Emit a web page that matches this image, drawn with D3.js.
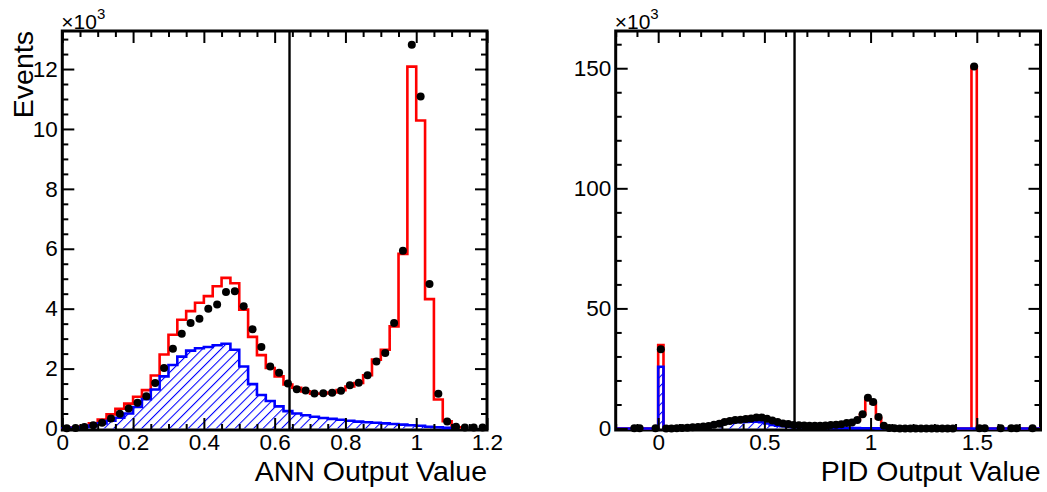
<!DOCTYPE html>
<html>
<head>
<meta charset="utf-8">
<script src="https://cdn.jsdelivr.net/npm/d3@7"></script>
<style>
  html, body { margin: 0; padding: 0; background: #fff; }
  svg { display: block; font-family: "Liberation Sans", Arial, Helvetica, sans-serif; }
</style>
</head>
<body>
<svg id="chart" width="1047" height="492"></svg>
<script>
// Bin width shared by both histograms
const binW = 0.025;

// ---- ANN output: 48 bins on [0, 1.2], entries in thousands ----
const annLow = 0;
const annData = [0.01, 0.02, 0.05, 0.11, 0.19, 0.33, 0.49, 0.67, 0.86, 1.08, 1.52, 2.02,
                 2.66, 3.16, 3.52, 3.66, 4.00, 4.14, 4.56, 4.58, 4.08, 3.31, 2.72, 2.07,
                 1.86, 1.50, 1.31, 1.27, 1.17, 1.18, 1.19, 1.26, 1.44, 1.53, 1.78, 2.24,
                 2.52, 3.52, 5.93, 12.81, 11.08, 4.82, 1.16, 0.23, 0.06, 0.03, 0.03, 0.03];
const annTotal = [0.01, 0.03, 0.07, 0.17, 0.30, 0.47, 0.66, 0.83, 1.06, 1.28, 1.77, 2.47,
                  3.13, 3.63, 3.92, 4.20, 4.42, 4.75, 5.03, 4.85, 3.97, 3.06, 2.45, 2.02,
                  1.74, 1.47, 1.36, 1.24, 1.16, 1.17, 1.20, 1.28, 1.40, 1.52, 1.78, 2.30,
                  2.63, 3.41, 5.83, 12.08, 10.28, 4.32, 0.97, 0.24, 0.04];
const annBkg = [0.01, 0.02, 0.05, 0.10, 0.17, 0.26, 0.36, 0.50, 0.72, 0.98, 1.30, 1.74,
                2.12, 2.40, 2.60, 2.68, 2.72, 2.78, 2.83, 2.63, 2.07, 1.48, 1.12, 0.92,
                0.74, 0.58, 0.50, 0.44, 0.39, 0.35, 0.32, 0.29, 0.26, 0.23, 0.21, 0.19,
                0.17, 0.15, 0.13, 0.11, 0.09, 0.06, 0.04, 0.02];
const annXMajor = [0, 0.2, 0.4, 0.6, 0.8, 1, 1.2];
const annXMinor = [0.05, 0.1, 0.15, 0.25, 0.3, 0.35, 0.45, 0.5, 0.55, 0.65, 0.7, 0.75,
                   0.85, 0.9, 0.95, 1.05, 1.1, 1.15];
const annYMajor = [0, 2, 4, 6, 8, 10, 12];
const annYMinor = [0.5, 1, 1.5, 2.5, 3, 3.5, 4.5, 5, 5.5, 6.5, 7, 7.5, 8.5, 9, 9.5,
                   10.5, 11, 11.5, 12.5, 13];
const annYMax = 13.27;

// ---- PID output: 80 bins on [-0.2, 1.8], entries in thousands ----
const pidLow = -0.2;
const pidData = [0, 0, 0, 0.1, 0.1, 0, 0, 0.1, 33.0,
                 0.02, 0.05, 0.11, 0.19, 0.33, 0.49, 0.67, 0.86, 1.08, 1.52, 2.02,
                 2.66, 3.16, 3.52, 3.66, 4.00, 4.14, 4.56, 4.58, 4.08, 3.31, 2.72, 2.07,
                 1.86, 1.50, 1.31, 1.27, 1.17, 1.18, 1.19, 1.26, 1.44, 1.53, 1.78, 2.24,
                 2.52, 3.52, 5.93, 12.81, 11.08, 4.82, 1.16, 0.23, 0.06, 0.03, 0.03, 0.03,
                 0.03, 0.03, 0.03, 0.03, 0.03, 0.03, 0.03, 0.03,
                 0, 0, 0, 150.7,
                 0.1, 0.1, 0, 0, 0.1, 0, 0.1, 0.1, 0, 0, 0.1, 0];
const pidTotal = [0, 0, 0, 0, 0, 0, 0, 0, 34.7,
                  0.03, 0.07, 0.17, 0.30, 0.47, 0.66, 0.83, 1.06, 1.28, 1.77, 2.47,
                  3.13, 3.63, 3.92, 4.20, 4.42, 4.75, 5.03, 4.85, 3.97, 3.06, 2.45, 2.02,
                  1.74, 1.47, 1.36, 1.24, 1.16, 1.17, 1.20, 1.28, 1.40, 1.52, 1.78, 2.30,
                  2.63, 3.41, 5.83, 12.08, 10.28, 4.32, 0.97, 0.24, 0.04,
                  0, 0, 0, 0, 0, 0, 0, 0, 0, 0, 0, 0, 0, 0,
                  150.7,
                  0, 0, 0, 0, 0, 0, 0, 0, 0, 0, 0, 0];
const pidBkg = [0, 0, 0, 0, 0, 0, 0, 0, 25.7,
                0.02, 0.05, 0.10, 0.17, 0.26, 0.36, 0.50, 0.72, 0.98, 1.30, 1.74,
                2.12, 2.40, 2.60, 2.68, 2.72, 2.78, 2.83, 2.63, 2.07, 1.48, 1.12, 0.92,
                0.74, 0.58, 0.50, 0.44, 0.39, 0.35, 0.32, 0.29, 0.26, 0.23, 0.21, 0.19,
                0.17, 0.15, 0.13, 0.11, 0.09, 0.06, 0.04, 0.02,
                0, 0, 0, 0, 0, 0, 0, 0, 0, 0, 0, 0, 0, 0, 0, 0, 0, 0, 0, 0,
                0, 0, 0, 0, 0, 0, 0, 0];
const pidXMajor = [0, 0.5, 1, 1.5];
const pidXMinor = [-0.2, -0.1, 0.1, 0.2, 0.3, 0.4, 0.6, 0.7, 0.8, 0.9, 1.1, 1.2, 1.3,
                   1.4, 1.6, 1.7, 1.8];
const pidYMajor = [0, 50, 100, 150];
const pidYMinor = [10, 20, 30, 40, 60, 70, 80, 90, 110, 120, 130, 140, 160];
const pidYMax = 165.5;

// Selection cut shown on both panels
const cutValue = 0.642;

const FONT = '"Liberation Sans", Arial, Helvetica, sans-serif';
const RED = "#ff0000", BLUE = "#0000ff";

const svg = d3.select("#chart");

// Diagonal hatch for the background component
svg.append("defs").append("pattern")
  .attr("id", "hatch")
  .attr("patternUnits", "userSpaceOnUse")
  .attr("width", 6.6).attr("height", 6.6)
  .attr("patternTransform", "rotate(45)")
  .append("line")
  .attr("x1", 0).attr("y1", 0).attr("x2", 0).attr("y2", 6.6)
  .attr("stroke", BLUE).attr("stroke-width", 2.1);

function drawPanel(p) {
  const top = 31, frameBottom = 430, zeroY = 428.5;
  const x = d3.scaleLinear().domain(p.xDomain).range([p.left, p.right]);
  const y = d3.scaleLinear().domain([0, p.yMax]).range([zeroY, top]);
  const g = svg.append("g");

  // frame
  g.append("rect")
    .attr("x", p.left).attr("y", top)
    .attr("width", p.right - p.left).attr("height", frameBottom - top)
    .attr("fill", "#fff").attr("stroke", "#000").attr("stroke-width", 3);

  // step outline points for a histogram starting at `low`
  function stepPoints(vals, low) {
    const n = vals.length;
    const pts = [[low, 0]];
    vals.forEach((v, i) => pts.push([low + i * binW, v]));
    pts.push([low + n * binW, vals[n - 1]]);
    pts.push([low + n * binW, 0]);
    return pts;
  }
  const step = d3.line()
    .x(d => x(d[0])).y(d => y(d[1]))
    .curve(d3.curveStepAfter);

  // total prediction (red)
  g.append("path")
    .attr("d", step(stepPoints(p.total, p.low)))
    .attr("fill", "none").attr("stroke", RED).attr("stroke-width", 2.6);

  // background component (blue, hatched)
  g.append("path")
    .attr("d", step(stepPoints(p.bkg, p.low)) + "Z")
    .attr("fill", "url(#hatch)").attr("stroke", "none");
  g.append("path")
    .attr("d", step(stepPoints(p.bkg, p.low)))
    .attr("fill", "none").attr("stroke", BLUE).attr("stroke-width", 2.6);

  // cut line
  g.append("line")
    .attr("x1", x(cutValue)).attr("x2", x(cutValue))
    .attr("y1", top).attr("y2", frameBottom)
    .attr("stroke", "#000").attr("stroke-width", 2.4);

  // data points
  g.append("g").selectAll("circle")
    .data(p.data.map((v, i) => ({ v, c: p.low + (i + 0.5) * binW })).filter(d => d.v > 0))
    .join("circle")
    .attr("cx", d => x(d.c)).attr("cy", d => y(d.v))
    .attr("r", 4).attr("fill", "#000");

  // axes: ticks on all four sides, pointing inward
  const fmt = d3.format("~g");
  function styleAxis(sel) {
    sel.select(".domain").remove();
    sel.selectAll(".tick line").attr("stroke", "#000").attr("stroke-width", 2);
    sel.attr("font-size", 22.5).attr("font-family", FONT);
    sel.selectAll("text").attr("fill", "#000");
  }
  g.append("g").attr("transform", `translate(0,${frameBottom})`)
    .call(d3.axisBottom(x).tickValues(p.xMajor).tickSize(-12).tickPadding(4).tickFormat(fmt))
    .call(styleAxis);
  g.append("g").attr("transform", `translate(0,${frameBottom})`)
    .call(d3.axisBottom(x).tickValues(p.xMinor).tickSize(-6).tickFormat(""))
    .call(styleAxis);
  g.append("g").attr("transform", `translate(0,${top})`)
    .call(d3.axisTop(x).tickValues(p.xMajor).tickSize(-12).tickFormat(""))
    .call(styleAxis);
  g.append("g").attr("transform", `translate(0,${top})`)
    .call(d3.axisTop(x).tickValues(p.xMinor).tickSize(-6).tickFormat(""))
    .call(styleAxis);
  g.append("g").attr("transform", `translate(${p.left},0)`)
    .call(d3.axisLeft(y).tickValues(p.yMajor).tickSize(-12).tickPadding(4.5).tickFormat(fmt))
    .call(styleAxis);
  g.append("g").attr("transform", `translate(${p.left},0)`)
    .call(d3.axisLeft(y).tickValues(p.yMinor).tickSize(-6).tickFormat(""))
    .call(styleAxis);
  g.append("g").attr("transform", `translate(${p.right},0)`)
    .call(d3.axisRight(y).tickValues(p.yMajor).tickSize(-12).tickFormat(""))
    .call(styleAxis);
  g.append("g").attr("transform", `translate(${p.right},0)`)
    .call(d3.axisRight(y).tickValues(p.yMinor).tickSize(-6).tickFormat(""))
    .call(styleAxis);

  // axis multiplier
  const mult = g.append("text")
    .attr("x", p.left - 1).attr("y", 28.5)
    .attr("font-family", FONT).attr("font-size", 21).attr("fill", "#000");
  mult.append("tspan").text("×10");
  mult.append("tspan").attr("dy", -10).attr("font-size", 15).text("3");

  // x title
  g.append("text")
    .attr("x", p.right).attr("y", 481)
    .attr("text-anchor", "end")
    .attr("font-family", FONT).attr("font-size", 28.5).attr("fill", "#000")
    .text(p.xTitle);

  if (p.yTitle) {
    g.append("text")
      .attr("transform", `translate(32.5,${top}) rotate(-90)`)
      .attr("text-anchor", "end")
      .attr("font-family", FONT).attr("font-size", 28.5).attr("fill", "#000")
      .text(p.yTitle);
  }
}

drawPanel({
  left: 62.3, right: 487, xDomain: [0, 1.2], yMax: annYMax, low: annLow,
  data: annData, total: annTotal, bkg: annBkg,
  xMajor: annXMajor, xMinor: annXMinor, yMajor: annYMajor, yMinor: annYMinor,
  xTitle: "ANN Output Value", yTitle: "Events"
});

drawPanel({
  left: 615.7, right: 1040.5, xDomain: [-0.2, 1.8], yMax: pidYMax, low: pidLow,
  data: pidData, total: pidTotal, bkg: pidBkg,
  xMajor: pidXMajor, xMinor: pidXMinor, yMajor: pidYMajor, yMinor: pidYMinor,
  xTitle: "PID Output Value", yTitle: null
});
</script>
</body>
</html>
